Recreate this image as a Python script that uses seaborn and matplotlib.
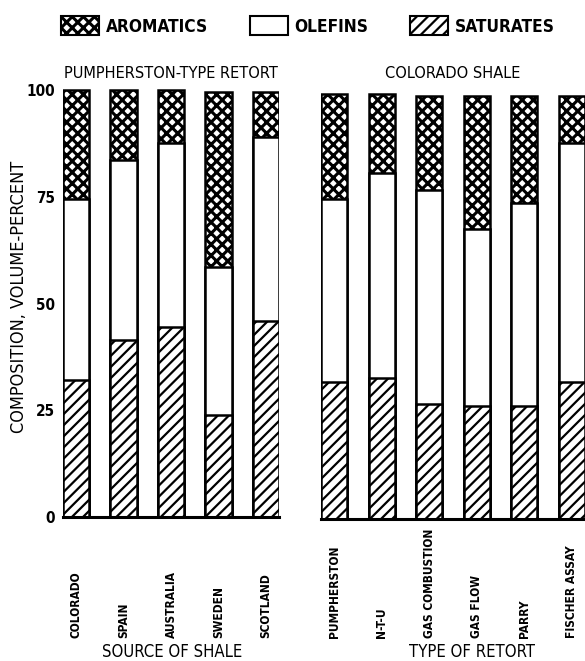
import matplotlib
matplotlib.use("Agg")
import matplotlib.pyplot as plt
import matplotlib.transforms as mtransforms
from matplotlib.patches import Patch
import seaborn as sns
import pandas as pd

# Composition of shale-oil naphthas, volume-percent
shale_sources = ["COLORADO", "SPAIN", "AUSTRALIA", "SWEDEN", "SCOTLAND"]
source_saturates = [32, 41.5, 44.5, 24, 46]
source_olefins = [42.5, 42, 43, 34.5, 43]
source_aromatics = [25.5, 16.5, 12.5, 41, 10.5]

retort_types = ["PUMPHERSTON", "N-T-U", "GAS COMBUSTION", "GAS FLOW", "PARRY", "FISCHER ASSAY"]
retort_saturates = [32, 33, 27, 26.5, 26.5, 32]
retort_olefins = [43, 48, 50, 41.5, 47.5, 56]
retort_aromatics = [24.5, 18.5, 22, 31, 25, 11]

y_ticks = [0, 25, 50, 75, 100]
y_tick_labels = ["0", "25", "50", "75", "100"]

sns.set_theme(style="white")
plt.rcParams["font.family"] = ["DejaVu Sans"]
plt.rcParams["font.stretch"] = "condensed"
plt.rcParams["text.color"] = "black"
plt.rcParams["hatch.linewidth"] = 1.6
plt.rcParams["hatch.color"] = "black"

W, H = 585, 661
fig = plt.figure(figsize=(W / 100, H / 100), dpi=100)


def fx(x):
    return x / W


def fy(y):
    return 1 - y / H


BAR_W = 0.55
EDGE_LW = 1.8
PX_PER_PCT = 4.27
CROSS_LW = 2.2
FONT = dict(family="DejaVu Sans", stretch="condensed", color="black")


def thicken_hatch(patch, lw):
    if hasattr(patch, "set_hatch_linewidth"):
        patch.set_hatch_linewidth(lw)


def stacked(ax, cats, sat, ole, aro):
    df = pd.DataFrame({
        "cat": cats,
        "sat": sat,
        "sat_ole": [s + o for s, o in zip(sat, ole)],
        "total": [s + o + a for s, o, a in zip(sat, ole, aro)],
    })
    common = dict(x="cat", order=cats, width=BAR_W, edgecolor="black",
                  linewidth=EDGE_LW, ax=ax, errorbar=None)
    sns.barplot(data=df, y="total", color="white", hatch="xxx", **common)
    n_aro = len(ax.patches)
    sns.barplot(data=df, y="sat_ole", color="white", **common)
    sns.barplot(data=df, y="sat", color="white", hatch="///", **common)
    for k, p in enumerate(ax.patches):
        p.set_facecolor("white")
        if k < n_aro:
            thicken_hatch(p, CROSS_LW)
    ax.set_xlim(-BAR_W / 2, len(cats) - 1 + BAR_W / 2)
    ax.set_ylim(0, 102)
    ax.set_xlabel("")
    ax.set_ylabel("")
    ax.set_xticks([])
    for side in ("top", "left", "right"):
        ax.spines[side].set_visible(False)
    ax.spines["bottom"].set_linewidth(2.2)
    ax.spines["bottom"].set_color("black")
    trans = mtransforms.blended_transform_factory(ax.transData, fig.transFigure)
    for i, c in enumerate(cats):
        ax.text(i, fy(638), c, rotation=90, ha="center", va="bottom",
                transform=trans, fontsize=8.6, fontweight="bold", **FONT)


# left panel: bars from x=63 to 279 px, baseline y=517 px
ax1_h = 102 * PX_PER_PCT
ax1 = fig.add_axes([fx(63), fy(517), (279 - 63) / W, ax1_h / H])
stacked(ax1, shale_sources, source_saturates, source_olefins, source_aromatics)
ax1.set_yticks(y_ticks)
ax1.set_yticklabels(y_tick_labels, fontsize=11, fontweight="bold", **FONT)
ax1.tick_params(axis="y", length=0, pad=6)

# right panel: bars from x=321 px to the figure edge, baseline y=519 px
ax2 = fig.add_axes([fx(321), fy(519), (585 - 321) / W, ax1_h / H])
stacked(ax2, retort_types, retort_saturates, retort_olefins, retort_aromatics)
ax2.set_yticks([])

# panel titles
fig.text(fx(171), fy(81), "PUMPHERSTON-TYPE RETORT", ha="center", va="bottom",
         fontsize=11.7, **FONT)
fig.text(fx(453), fy(81), "COLORADO SHALE", ha="center", va="bottom",
         fontsize=11.7, **FONT)

# axis titles
fig.text(fx(19), fy(297), "COMPOSITION, VOLUME-PERCENT", rotation=90,
         ha="center", va="center", fontsize=13, **FONT)
fig.text(fx(172), fy(652), "SOURCE OF SHALE", ha="center", va="center",
         fontsize=12, **FONT)
fig.text(fx(472), fy(652), "TYPE OF RETORT", ha="center", va="center",
         fontsize=12, **FONT)

# legend
handles = [
    Patch(facecolor="white", edgecolor="black", hatch="xxx", linewidth=1.5, label="AROMATICS"),
    Patch(facecolor="white", edgecolor="black", linewidth=1.5, label="OLEFINS"),
    Patch(facecolor="white", edgecolor="black", hatch="///", linewidth=1.5, label="SATURATES"),
]
leg = fig.legend(handles=handles, loc="center", bbox_to_anchor=(fx(308), fy(26)),
                 ncol=3, frameon=False, handlelength=2.2, handleheight=1.3,
                 handletextpad=0.4, columnspacing=2.4,
                 prop={"size": 12.4, "weight": "bold", "family": "DejaVu Sans",
                       "stretch": "condensed"})
for t in leg.get_texts():
    t.set_color("black")
thicken_hatch(leg.legend_handles[0], CROSS_LW)

fig.savefig("out.png", dpi=100, facecolor="white")
